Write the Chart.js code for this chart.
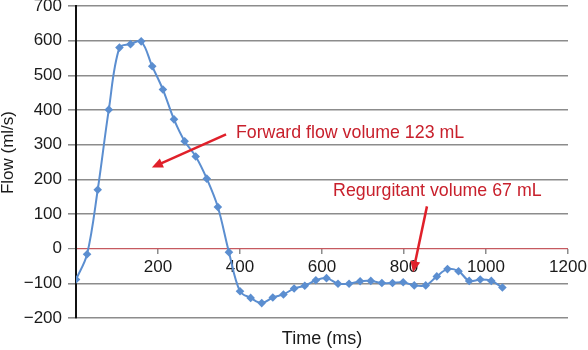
<!DOCTYPE html>
<html>
<head>
<meta charset="utf-8">
<script src="https://cdn.jsdelivr.net/npm/chart.js@4.4.0/dist/chart.umd.min.js"></script>
<style>
  html, body { margin: 0; padding: 0; background: #fff; }
</style>
</head>
<body>
<canvas id="flowchart" width="588" height="350"></canvas>
<script>
'use strict';
// flow curve, values (ms / ml/s)
var timeMs = [0, 27, 53, 80, 106, 133, 159, 186, 212, 239, 265, 292,
  319, 346, 373, 400, 426, 453, 480, 506, 532, 558, 585, 611, 639, 666,
  693, 719, 746, 772, 798, 825, 853, 880, 906, 933, 959, 986, 1013, 1040];
var flowMl = [-89, -16, 170, 401, 580, 590, 598, 526, 459, 373, 310, 266,
  202, 120, -10, -123, -142, -157, -141, -132, -115, -107, -91, -85, -101, -101,
  -94, -93, -99, -99, -97, -106, -106, -80, -59, -65, -93, -89, -93, -112];

var xTicks = [0, 200, 400, 600, 800, 1000, 1200];
var yTicks = [-200, -100, 0, 100, 200, 300, 400, 500, 600, 700];

var noteTexts = ['Forward flow volume 123 mL', 'Regurgitant volume 67 mL'];

var points = [];
for (var i = 0; i < timeMs.length; i++) {
  points.push({x: timeMs[i], y: flowMl[i]});
}

var gridGray = '#8c8c8c';
var lineBlue = '#5b8ed0';
var noteRed = '#c8202c';

function setTicks(list) {
  return function(scale) {
    scale.ticks = list.map(function(v) { return {value: v}; });
  };
}

function drawArrow(ctx, x1, y1, x2, y2) {
  var ang = Math.atan2(y2 - y1, x2 - x1);
  var head = 11;
  ctx.beginPath();
  ctx.moveTo(x1, y1);
  ctx.lineTo(x2 - Math.cos(ang) * head * 0.7, y2 - Math.sin(ang) * head * 0.7);
  ctx.stroke();
  ctx.beginPath();
  ctx.moveTo(x2, y2);
  ctx.lineTo(x2 - head * Math.cos(ang) + 5 * Math.sin(ang), y2 - head * Math.sin(ang) - 5 * Math.cos(ang));
  ctx.lineTo(x2 - head * Math.cos(ang) - 5 * Math.sin(ang), y2 - head * Math.sin(ang) + 5 * Math.cos(ang));
  ctx.closePath();
  ctx.fill();
}

// red labels and arrows, anchored in data units
var arrowNotes = {
  id: 'arrowNotes',
  afterDatasetsDraw: function(chart) {
    var ctx = chart.ctx;
    var xs = chart.scales.x, ys = chart.scales.y;
    ctx.save();
    ctx.font = '17.8px "Liberation Sans", Arial, sans-serif';
    ctx.fillStyle = noteRed;
    ctx.textBaseline = 'alphabetic';
    ctx.fillText(noteTexts[0], xs.getPixelForValue(390), ys.getPixelForValue(318));
    ctx.fillText(noteTexts[1], xs.getPixelForValue(627), ys.getPixelForValue(151));
    ctx.strokeStyle = '#e0202a';
    ctx.fillStyle = '#e0202a';
    ctx.lineWidth = 2.5;
    drawArrow(ctx, xs.getPixelForValue(366), ys.getPixelForValue(330),
      xs.getPixelForValue(185), ys.getPixelForValue(234));
    drawArrow(ctx, xs.getPixelForValue(856), ys.getPixelForValue(122),
      xs.getPixelForValue(822), ys.getPixelForValue(-68));
    ctx.restore();
  }
};

var tickFont = {family: '"Liberation Sans", Arial, sans-serif', size: 17};
var titleFont = {family: '"Liberation Sans", Arial, sans-serif', size: 18};

var chart = new Chart(document.getElementById('flowchart').getContext('2d'), {
  type: 'line',
  data: {
    datasets: [{
      data: points,
      xAxisID: 'x',
      yAxisID: 'y',
      borderColor: lineBlue,
      backgroundColor: lineBlue,
      borderWidth: 2,
      tension: 0.35,
      pointStyle: 'rectRot',
      pointRadius: 4.3,
      pointBorderWidth: 0,
      fill: false
    }]
  },
  options: {
    responsive: false,
    animation: false,
    devicePixelRatio: 1,
    layout: {padding: {top: 6, right: 20, bottom: 0, left: 0}},
    plugins: {legend: {display: false}, tooltip: {enabled: false}},
    scales: {
      x: {
        type: 'linear',
        position: 'bottom',
        min: 0,
        max: 1200,
        ticks: {display: false},
        grid: {display: false},
        border: {display: false},
        title: {display: true, text: 'Time (ms)', font: titleFont, color: '#1a1a1a', padding: 0},
        afterFit: function(s) { s.height = 32; s.paddingLeft = 0; s.paddingRight = 0; }
      },
      x2: {
        axis: 'x',
        type: 'linear',
        position: {y: 0},
        min: 0,
        max: 1200,
        afterBuildTicks: setTicks(xTicks),
        ticks: {
          font: tickFont,
          color: '#1a1a1a',
          padding: 3,
          maxRotation: 0,
          callback: function(v) { return v === 0 ? '' : v; }
        },
        grid: {drawOnChartArea: false, tickLength: 5, color: gridGray, lineWidth: 1.5},
        border: {display: false},
        afterFit: function(s) { s.height = 0; s.paddingLeft = 0; s.paddingRight = 0; }
      },
      y: {
        type: 'linear',
        position: 'left',
        min: -200,
        max: 700,
        afterBuildTicks: setTicks(yTicks),
        ticks: {
          font: tickFont,
          color: '#1a1a1a',
          padding: 6,
          callback: function(v) { return v < 0 ? '\u2212' + Math.abs(v) : v; }
        },
        grid: {
          tickLength: 8,
          tickColor: gridGray,
          color: function(c) { return c.tick && c.tick.value === 0 ? '#c65a60' : gridGray; },
          lineWidth: function(c) { return c.tick && c.tick.value === 0 ? 1.2 : 1.6; }
        },
        border: {display: true, color: '#111', width: 2},
        // leading spaces nudge the rotated title up a little, as in the figure
        title: {display: true, text: '    Flow (ml/s)', font: tickFont, color: '#1a1a1a', padding: {top: -2, bottom: 0}},
        afterFit: function(s) { s.width = 76; s.paddingTop = 0; s.paddingBottom = 0; }
      }
    }
  },
  plugins: [arrowNotes]
});
</script>
</body>
</html>
